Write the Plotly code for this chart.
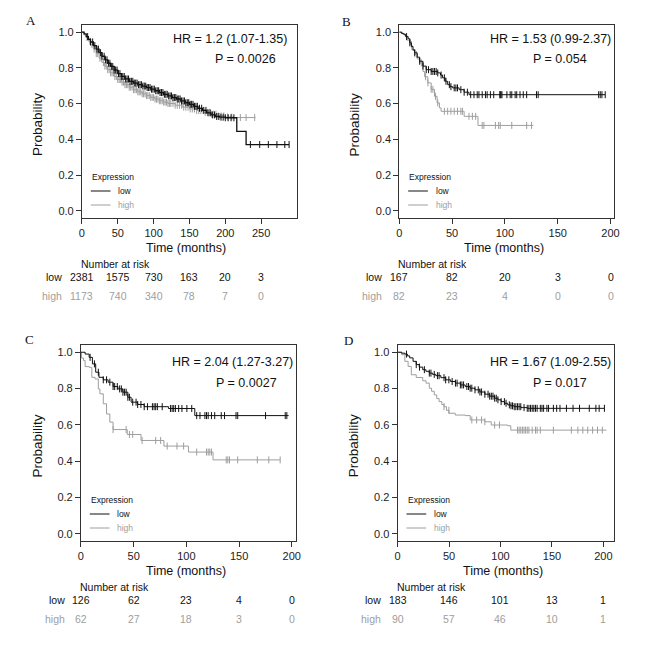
import numpy as np
import plotly.graph_objects as go

# ---------------- data ----------------
# Panel A
A_low_t = [0, 3, 6, 9, 12, 16, 20, 24, 28, 32, 36, 40, 45, 50, 55, 60, 66, 72, 78, 84, 90, 96, 102, 108,
           114, 120, 126, 132, 138, 144, 150, 156, 162, 168, 174, 180, 186, 192, 200, 216, 229, 289]
A_low_s = [1.0, .99, .975, .96, .945, .925, .905, .885, .865, .845, .826, .808, .788, .768, .752, .738, .725,
           .715, .706, .698, .69, .681, .672, .662, .652, .643, .634, .626, .615, .605, .596, .585, .574, .562,
           .548, .537, .528, .524, .521, .445, .371, .371]
A_low_cens = [8, 12, 15, 18, 21, 23, 26, 28, 31, 33, 35, 37, 39, 41, 43, 45, 47, 49, 51, 53, 55, 57, 59, 61,
              63, 65, 67, 69, 71, 73, 75, 77, 79, 81, 83, 85, 87, 89, 91, 93, 95, 97, 99, 101, 103, 105, 107,
              109, 111, 113, 115, 117, 119, 121, 123, 125, 127, 129, 131, 133, 135, 137, 139, 141, 143, 145,
              147, 149, 151, 153, 155, 157, 159, 161, 164, 167, 170, 173, 176, 179, 182, 185, 188, 191, 194,
              197, 200, 204, 208, 212, 235, 248, 260, 272, 283, 289]
A_high_t = [0, 3, 6, 9, 12, 16, 20, 24, 28, 32, 36, 40, 45, 50, 55, 60, 66, 72, 78, 84, 90, 96, 102, 108,
            114, 120, 130, 140, 150, 160, 170, 180, 190, 200, 212, 242]
A_high_s = [1.0, .985, .97, .95, .93, .905, .88, .855, .83, .81, .79, .772, .752, .735, .72, .706, .692, .678,
            .666, .655, .645, .635, .625, .616, .608, .601, .591, .58, .57, .561, .551, .541, .531, .525, .522,
            .522]
A_high_cens = [7, 11, 14, 17, 20, 22, 25, 27, 30, 32, 34, 36, 38, 40, 42, 44, 46, 48, 50, 52, 54, 56, 58, 60,
               62, 64, 66, 68, 70, 72, 74, 76, 78, 80, 82, 84, 86, 88, 90, 92, 94, 96, 98, 100, 102, 104, 106,
               108, 110, 112, 114, 116, 118, 120, 122, 124, 127, 130, 133, 136, 139, 142, 145, 148, 151, 154,
               157, 160, 163, 166, 169, 172, 175, 178, 181, 184, 187, 190, 194, 198, 203, 209, 221, 229, 241]

# Panel B
B_low_t = [0, 2, 4, 6, 8.4, 10, 11.5, 13, 14.6, 17, 19.3, 22.4, 25.5, 30.2, 36.4, 39, 41, 43.5, 45.8, 48,
           50.5, 56.7, 61.4, 66, 195]
B_low_s = [1.0, .993, .988, .975, .963, .94, .92, .90, .884, .86, .837, .81, .79, .78, .772, .76, .744, .725,
           .706, .695, .688, .678, .664, .65, .65]
B_low_cens = [6.9, 10, 14.6, 19.3, 22.4, 25.5, 27.7, 30.2, 31.8, 33.3, 34.9, 36.4, 39.6, 42.7, 44.2, 47.4,
              48.9, 52, 53.6, 55.1, 58.3, 61.4, 64.5, 67.6, 70.7, 73.8, 75.4, 78.5, 81.6, 83.2, 86.3, 89.4,
              95.2, 95.6, 96.3, 97.2, 101.9, 105, 106.5, 109.7, 111.2, 114.3, 117.4, 120.6, 129.9, 131.5,
              188.8, 190.3, 191.9, 195]
B_high_t = [0, 3, 5.3, 7.5, 10, 12, 14.6, 17, 19.3, 22.4, 24, 27, 30.2, 33.3, 35.8, 38, 39.6, 61.4, 74.5, 127]
B_high_s = [1.0, .99, .978, .955, .93, .90, .875, .85, .828, .78, .75, .716, .68, .641, .604, .576, .557,
            .529, .478, .478]
B_high_cens = [11.5, 16.2, 20.9, 24.9, 27.1, 30.2, 31.8, 34.3, 36.4, 42.7, 45.8, 48.9, 52, 55.1, 58.3, 59.8,
               66, 69.2, 72.3, 78.5, 80.1, 91, 94.1, 95.6, 106.5, 120.6, 125.2]

# Panel C
C_low_t = [0, 4, 7.8, 10.9, 14, 17.1, 21.2, 25.8, 30.5, 35.1, 39.8, 44.5, 47.6, 53.8, 60, 83, 108, 197]
C_low_s = [1.0, .99, .972, .936, .89, .862, .848, .835, .811, .798, .78, .752, .725, .712, .70, .69, .651, .651]
C_low_cens = [8.7, 12.8, 16.5, 21.2, 24.3, 27.4, 30.5, 32, 34.5, 36.7, 38.3, 39.8, 41.4, 42.9, 44.5, 46,
              49.1, 52.3, 53.8, 56.9, 60, 63.1, 67.8, 69.4, 70.9, 72.5, 77.1, 84.9, 86.5, 88, 89.6, 92.7,
              95.8, 100.5, 105.1, 109.8, 112.9, 117.6, 119.1, 120.7, 123.8, 126.9, 133.1, 136.2, 147.1,
              148.7, 175.1, 193.8, 195.3]
C_high_t = [0, 0.5, 2.5, 4, 7.8, 10.3, 13.4, 16.5, 18, 21.2, 24.3, 27.4, 30.5, 43.9, 57, 78.7, 102, 125.3, 189]
C_high_s = [1.0, .968, .954, .921, .917, .862, .853, .798, .771, .716, .66, .615, .574, .547, .514, .483, .45,
            .407, .407]
C_high_cens = [30.5, 42.9, 46, 49.1, 58, 70.9, 75.6, 81.8, 91.1, 97.4, 109.8, 119.1, 120.7, 122.2, 123.8,
               137.8, 139.3, 140.9, 148.7, 167.3, 178.2, 189]

# Panel D
D_low_t = [0, 4, 7, 9.5, 11.7, 15, 18.1, 21, 24.4, 27.5, 30.8, 34, 37.1, 42, 46.7, 51.5, 56.2, 61, 65.7, 70.5,
           75.2, 80, 84.8, 89.5, 94.3, 97.5, 100.6, 104, 107, 110, 113.3, 120, 126, 201]
D_low_s = [1.0, .995, .99, .98, .969, .95, .932, .918, .904, .895, .885, .878, .871, .86, .848, .839, .83, .82,
           .811, .802, .793, .781, .769, .758, .747, .738, .728, .719, .71, .705, .70, .695, .691, .691]
D_low_cens = [8.6, 18.1, 21.3, 26, 30.8, 32.4, 35.6, 38.7, 40.3, 45.1, 46.7, 49.8, 53, 56.2, 57.8, 61, 62.5,
              64.1, 67.3, 68.9, 70.5, 72.1, 75.2, 78.4, 80, 81.6, 84.8, 87.9, 89.5, 91.1, 92.7, 94.3, 95.9,
              97.5, 100.6, 103.8, 105.4, 108.6, 110.2, 111.7, 113.3, 114.9, 116.5, 118.1, 119.7, 122.9, 126,
              127.6, 129.2, 130.8, 132.4, 134, 135.6, 138.7, 140.3, 141.9, 145.1, 146.7, 151.4, 154.6, 157.8,
              164.1, 170.5, 176.8, 186.3, 192.7, 195.9, 201]
D_high_t = [0, 3.8, 7, 10.2, 13.3, 18.1, 24.4, 27.6, 30.8, 33, 35.6, 38, 40.3, 43, 45.1, 47.5, 50, 56, 65.7,
            70.5, 84.8, 91, 107, 110, 203]
D_high_s = [1.0, .987, .95, .922, .876, .861, .843, .83, .802, .785, .765, .745, .728, .712, .70, .68, .664,
            .654, .651, .627, .617, .599, .595, .571, .571]
D_high_cens = [45.1, 49.8, 72.1, 76.8, 81.6, 84.8, 94.3, 99, 116.5, 118.1, 119.7, 121.3, 122.9, 124.4, 126,
               127.6, 130.8, 134, 135.6, 138.7, 151.4, 168.9, 175.2, 180, 184.8, 189.5, 194.3, 199]

# Number at risk
A_risk_t = [0, 50, 100, 150, 200, 250]
A_risk_low = [2381, 1575, 730, 163, 20, 3]
A_risk_high = [1173, 740, 340, 78, 7, 0]
B_risk_t = [0, 50, 100, 150, 200]
B_risk_low = [167, 82, 20, 3, 0]
B_risk_high = [82, 23, 4, 0, 0]
C_risk_t = [0, 50, 100, 150, 200]
C_risk_low = [126, 62, 23, 4, 0]
C_risk_high = [62, 27, 18, 3, 0]
D_risk_t = [0, 50, 100, 150, 200]
D_risk_low = [183, 146, 101, 13, 1]
D_risk_high = [90, 57, 46, 10, 1]

panel_letters = ["A", "B", "C", "D"]
hr_texts = ["HR = 1.2 (1.07-1.35)", "HR = 1.53 (0.99-2.37)", "HR = 2.04 (1.27-3.27)", "HR = 1.67 (1.09-2.55)"]
p_texts = ["P = 0.0026", "P = 0.054", "P = 0.0027", "P = 0.017"]
x_ticks = [[0, 50, 100, 150, 200, 250], [0, 50, 100, 150, 200], [0, 50, 100, 150, 200], [0, 50, 100, 150, 200]]
y_ticks = [0, 0.2, 0.4, 0.6, 0.8, 1.0]

# ---------------- layout / style ----------------
W = H = 669
FONT = "Liberation Sans, Arial, sans-serif"
SERIF = "Liberation Serif, Times New Roman, serif"
LOW_C = "#111111"
HIGH_C = "#9e9e9e"
AX_C = "#333333"


def px(x):
    return x / W


def py(y):
    return 1 - y / H


panels = [
    dict(box=(80, 25, 298, 218), xmax=300, letter=(28, 21), hr=(230, 39), p=(246, 59),
         low=(A_low_t, A_low_s, A_low_cens), high=(A_high_t, A_high_s, A_high_cens),
         risk=(A_risk_t, A_risk_low, A_risk_high), lw=1.3, rowoff=18),
    dict(box=(401.7, 25, 619, 218), xmax=203, letter=(348, 22), hr=(555, 39), p=(565, 59),
         low=(B_low_t, B_low_s, B_low_cens), high=(B_high_t, B_high_s, B_high_cens),
         risk=(B_risk_t, B_risk_low, B_risk_high), lw=1, rowoff=15),
    dict(box=(79, 345, 297, 541), xmax=204, letter=(27, 339), hr=(233, 362), p=(247, 383),
         low=(C_low_t, C_low_s, C_low_cens), high=(C_high_t, C_high_s, C_high_cens),
         risk=(C_risk_t, C_risk_low, C_risk_high), lw=1, rowoff=14),
    dict(box=(400, 345, 619, 541), xmax=210, letter=(350, 341), hr=(555, 362), p=(565, 383),
         low=(D_low_t, D_low_s, D_low_cens), high=(D_high_t, D_high_s, D_high_cens),
         risk=(D_risk_t, D_risk_low, D_risk_high), lw=1, rowoff=15),
]

fig = go.Figure()
annotations = []
shapes = []
layout = {}


def step_at(times, surv, q):
    times = np.asarray(times, dtype=float)
    surv = np.asarray(surv, dtype=float)
    idx = np.searchsorted(times, np.asarray(q, dtype=float), side="right") - 1
    idx = np.clip(idx, 0, len(surv) - 1)
    return surv[idx]


def ann(x, y, text, size, color="#111", xanchor="center", family=FONT, angle=0, xref="paper", xshift=0):
    annotations.append(dict(x=x, y=y, xref=xref, yref="paper", text=text, showarrow=False,
                            xanchor=xanchor, yanchor="middle", textangle=angle, xshift=xshift,
                            font=dict(family=family, size=size, color=color)))


for i, p in enumerate(panels):
    n = "" if i == 0 else str(i + 1)
    xa, ya = "x" + n, "y" + n
    l, t, r, b = p["box"]
    for (tt, ss, cc), col, w in [(p["high"], HIGH_C, 1), (p["low"], LOW_C, p["lw"])]:
        fig.add_trace(go.Scatter(x=tt, y=ss, mode="lines", line=dict(shape="hv", color=col, width=w),
                                 xaxis=xa, yaxis=ya, showlegend=False, hoverinfo="skip"))
        fig.add_trace(go.Scatter(x=cc, y=step_at(tt, ss, cc), mode="markers",
                                 marker=dict(symbol="line-ns", size=5, color=col, line=dict(width=1, color=col)),
                                 xaxis=xa, yaxis=ya, showlegend=False, hoverinfo="skip"))
    common = dict(ticks="outside", ticklen=5, tickwidth=1, tickcolor=AX_C, showline=True, linecolor=AX_C,
                  linewidth=1, mirror=True, showgrid=False, zeroline=False,
                  tickfont=dict(family=FONT, size=11, color="#222"))
    layout["xaxis" + n] = dict(domain=[px(l), px(r)], range=[0, p["xmax"]], anchor=ya,
                               tickvals=x_ticks[i], **common)
    layout["yaxis" + n] = dict(domain=[py(b), py(t)], range=[-0.04, 1.04], anchor=xa,
                               tickvals=y_ticks, tickformat=".1f", **common)

    # panel letter
    ann(px(p["letter"][0]), py(p["letter"][1]), panel_letters[i], 13, "#111", family=SERIF)
    # HR / P
    ann(px(p["hr"][0]), py(p["hr"][1]), hr_texts[i], 12.5)
    ann(px(p["p"][0]), py(p["p"][1]), p_texts[i], 12.5)
    # axis titles
    ann(px(l - 45), py((t + b) / 2 + 3), "Probability", 13.5, angle=-90)
    ann(px((l + r) / 2 - 3), py(b + 30), "Time (months)", 12.5)
    # legend
    ann(px(l + 8), py(b - 41), "Expression", 8.5, xanchor="left")
    shapes.append(dict(type="line", xref="paper", yref="paper", x0=px(l + 9), x1=px(l + 29),
                       y0=py(b - 27), y1=py(b - 27), line=dict(color=LOW_C, width=1)))
    shapes.append(dict(type="line", xref="paper", yref="paper", x0=px(l + 9), x1=px(l + 29),
                       y0=py(b - 13), y1=py(b - 13), line=dict(color=HIGH_C, width=1)))
    ann(px(l + 35), py(b - 27), "low", 8.5, LOW_C, xanchor="left")
    ann(px(l + 35), py(b - 13), "high", 8.5, HIGH_C, xanchor="left")
    # number at risk
    rt, rlow, rhigh = p["risk"]
    ann(px(l - 3), py(b + 46), "Number at risk", 10.5, xanchor="left")
    ann(0, py(b + 59), "low", 10.5, LOW_C, xanchor="right", xref=xa, xshift=-p["rowoff"])
    ann(0, py(b + 78), "high", 10.5, HIGH_C, xanchor="right", xref=xa, xshift=-p["rowoff"])
    for tx, v in zip(rt, rlow):
        ann(tx, py(b + 59), str(v), 10.5, LOW_C, xref=xa)
    for tx, v in zip(rt, rhigh):
        ann(tx, py(b + 78), str(v), 10.5, HIGH_C, xref=xa)

fig.update_layout(width=W, height=H, margin=dict(l=0, r=0, t=0, b=0), autosize=False,
                  paper_bgcolor="white", plot_bgcolor="white", annotations=annotations, shapes=shapes,
                  **layout)
fig.write_html("out.html", config={"displayModeBar": False},
               post_script="document.body.style.margin='0px';")
